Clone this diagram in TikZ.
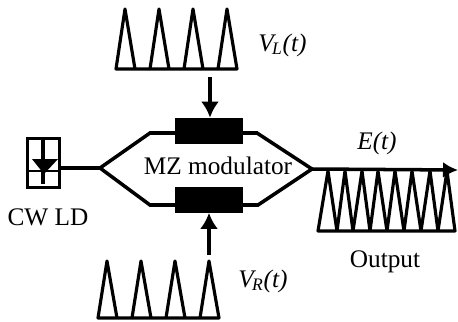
\documentclass[tikz,border=0pt]{standalone}
\usepackage{fontspec}
\setmainfont{Liberation Serif}
\usetikzlibrary{arrows.meta}
\tikzset{
  guide/.style={line width=2pt},
  pulse/.style={line width=1.8pt,line join=round},
  electrode/.style={draw=none,fill=black,minimum width=1.36cm,minimum height=0.52cm,inner sep=0pt},
  feed/.style={line width=2pt,-{Latex[length=0.32cm,width=0.36cm]}},
  label/.style={font=\fontsize{14.4}{16}\selectfont,inner sep=0pt}
}
\begin{document}
\begin{tikzpicture}[x=0.02cm,y=-0.02cm]
\useasboundingbox (0,0) rectangle (458,322);
% laser
\node[draw,line width=1.6pt,minimum width=0.64cm,minimum height=0.98cm,inner sep=0pt] (ld) at (43.5,163) {};
\coordinate (ldtop) at (43,140);
\coordinate (ldbot) at (43,184);
\coordinate (ldleft) at (28,171);
\coordinate (ldright) at (59,171);
\draw[line width=1.2pt] (ldleft) -- (ldright);
\draw[line width=1.8pt] (ldtop) -- (ldbot);
\coordinate (dioa) at (32,159);
\coordinate (diob) at (58,159);
\coordinate (dioc) at (44,174);
\fill (dioa) -- (diob) -- (dioc) -- cycle;
\node[label] (ldname) at (48,217) {CW LD};
% waveguides
\coordinate (split) at (100,168);
\coordinate (join) at (312,169);
\coordinate (tl) at (150,133);
\coordinate (tr) at (257,133);
\coordinate (bl) at (150,205);
\coordinate (br) at (258,205);
\node[electrode] (armtop) at (209,131) {};
\node[electrode] (armbot) at (209,199.5) {};
\coordinate (ldout) at (59,168);
\coordinate (outend) at (458,170);
\draw[guide] (ldout) -- (split) -- (tl) -- (tr) -- (join) -- (br) -- (bl) -- (split);
\draw[guide,-{Latex[length=0.3cm,width=0.32cm]}] (join) -- (outend);
\node[label] (mz) at (218,166) {MZ modulator};
\node[label] (eout) at (377,143) {\textit{E(t)}};
% drive pulses
\draw[pulse] (116,69) -- (125,9) -- (135,69) -- (150,69) -- (159,9) -- (169,69) -- (184,69) -- (193,9) -- (203,69) -- (218,69) -- (227,9) -- (237,69) -- cycle;
\coordinate (vlstart) at (210,77);
\draw[feed] (vlstart) -- (armtop.north -| vlstart);
\node[label,anchor=west] (vl) at (258,45) {\textit{V\kern-1pt\textsubscript{L}(t)}};
\draw[pulse] (98,318) -- (107,261) -- (117,318) -- (132,318) -- (141,261) -- (151,318) -- (166,318) -- (175,261) -- (185,318) -- (200,318) -- (209,261) -- (219,318) -- cycle;
\coordinate (vrstart) at (209,255);
\draw[feed] (vrstart) -- (armbot.south -| vrstart);
\node[label,anchor=west] (vr) at (238,281) {\textit{V\kern-1pt\textsubscript{R}(t)}};
% output pulses
\draw[pulse] (318,231) -- (328,171) -- (337,231) -- (345,171) -- (353,231) -- (362,171) -- (370,231) -- (378,171) -- (387,231) -- (395,171) -- (404,231) -- (412,171) -- (421,231) -- (430,171) -- (438,231) -- (447,171) -- (455,231) -- cycle;
\node[label] (output) at (385,262) {Output};
\end{tikzpicture}
\end{document}
